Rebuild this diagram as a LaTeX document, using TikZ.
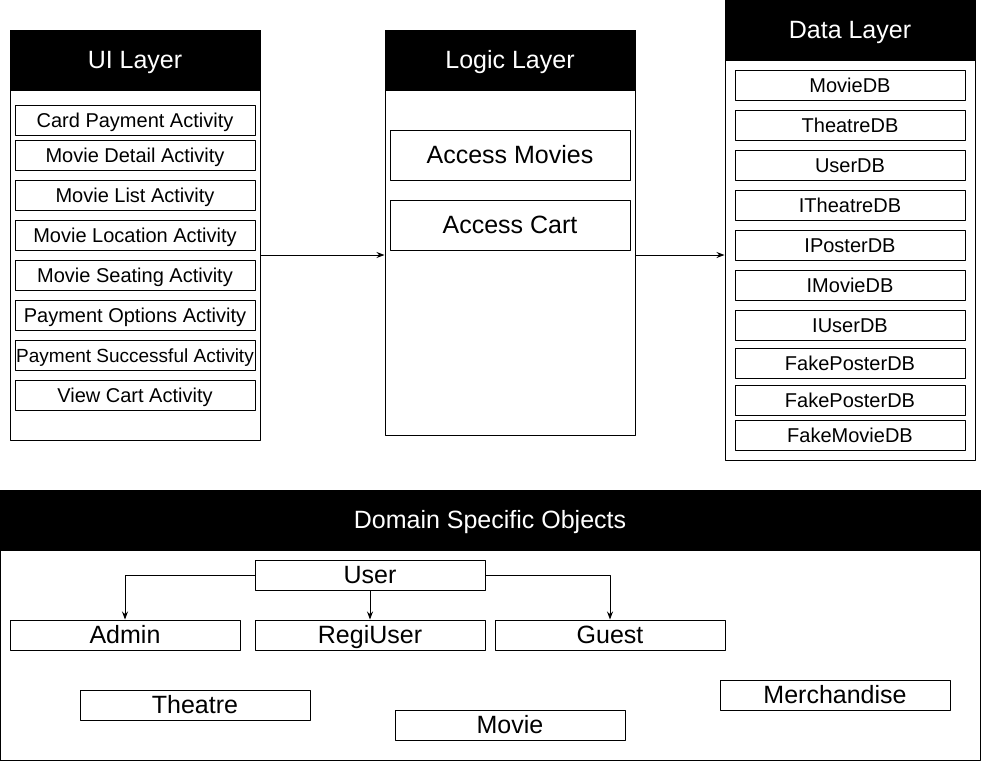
\documentclass[tikz,border=0pt]{standalone}
\usepackage{fontspec}
\setmainfont{Liberation Sans}
\usetikzlibrary{arrows.meta}
\begin{document}
\begin{tikzpicture}[x=1pt, y=-1pt, line width=1pt, line join=round, >={Stealth[length=8pt,width=6pt]},
	layer/.style={draw, minimum width=250pt, inner sep=0pt},
	big/.style={font=\fontsize{25}{30}\selectfont, text height=22.5pt, text depth=5pt},
	head/.style={draw, fill=black, text=white, minimum width=#1, minimum height=60pt, inner sep=0pt, big},
	head/.default=250pt,
	item/.style={draw, fill=white, minimum width=#1, minimum height=30pt, inner sep=0pt, font=\fontsize{20}{24}\selectfont, text height=18pt, text depth=4pt},
	item/.default=240pt,
	obj/.style={draw, fill=white, minimum width=230pt, minimum height=30pt, inner sep=0pt, big}]
		\def\yarr{255}
		\useasboundingbox (0,0) rectangle (981,761);
		% ui layer
		\node[layer, minimum height=410pt] (ui) at (135,235) {};
		\node[head] (uihead) at (135,60) {UI Layer};
		\foreach \y/\t [count=\i] in {120/Card Payment Activity, 155/Movie Detail Activity, 195/Movie List Activity, 235/Movie Location Activity, 275/Movie Seating Activity, 315/Payment Options Activity, 395/View Cart Activity}
			\node[item] (ui\i) at (135,\y) {\t};
		\node[item, font=\fontsize{19}{24}\selectfont] (uisucc) at (135,355) {Payment Successful Activity};
		% logic layer
		\node[layer, minimum height=405pt] (logic) at (510,232.5) {};
		\node[head] (logichead) at (510,60) {Logic Layer};
		\node[item, minimum height=50pt, big] (accmovies) at (510,155) {Access Movies};
		\node[item, minimum height=50pt, big] (acccart) at (510,225) {Access Cart};
		% data layer
		\node[layer, minimum height=460pt] (data) at (850,230) {};
		\node[head] (datahead) at (850,30) {Data Layer};
		\foreach \y/\t [count=\i] in {85/MovieDB, 125/TheatreDB, 165/UserDB, 205/ITheatreDB, 245/IPosterDB, 285/IMovieDB, 325/IUserDB, 363/FakePosterDB, 400/FakePosterDB, 435/FakeMovieDB}
			\node[item=230pt] (db\i) at (850,\y) {\t};
		\coordinate (arr) at (0,\yarr);
		\draw[->] (ui.east|-arr) -- (logic.west|-arr);
		\draw[->] (logic.east|-arr) -- (data.west|-arr);
		% domain objects
		\node[layer, minimum width=980pt, minimum height=270pt] (domain) at (490,625) {};
		\node[head=980pt] (domainhead) at (490,520) {Domain Specific Objects};
		\node[obj] (user) at (370,575) {User};
		\node[obj] (admin) at (125,635) {Admin};
		\node[obj] (regiuser) at (370,635) {RegiUser};
		\node[obj] (guest) at (610,635) {Guest};
		\node[obj] (theatre) at (195,705) {Theatre};
		\node[obj] (movie) at (510,725) {Movie};
		\node[obj] (merch) at (835,695) {Merchandise};
		\draw[->] (user.west) -| (admin.north);
		\draw[->] (user.south) -- (regiuser.north);
		\draw[->] (user.east) -| (guest.north);
\end{tikzpicture}
\end{document}
